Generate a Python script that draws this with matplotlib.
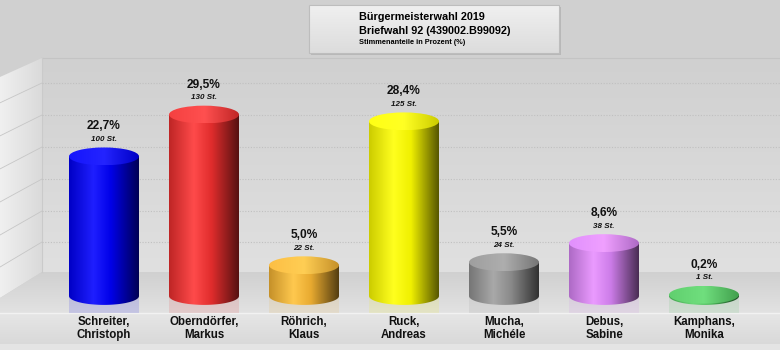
import numpy as np
import matplotlib
matplotlib.use("Agg")
import matplotlib.pyplot as plt
from matplotlib.colors import LinearSegmentedColormap, to_rgb
from matplotlib.patches import Polygon, Rectangle, Ellipse
from matplotlib.transforms import blended_transform_factory

plt.rcParams['font.family'] = ['Liberation Sans', 'DejaVu Sans']

candidates = ["Schreiter,\nChristoph", "Oberndörfer,\nMarkus", "Röhrich,\nKlaus",
              "Ruck,\nAndreas", "Mucha,\nMichéle", "Debus,\nSabine", "Kamphans,\nMonika"]
percent = [22.7, 29.5, 5.0, 28.4, 5.5, 8.6, 0.2]
votes = [100, 130, 22, 125, 24, 38, 1]
bar_colors = ["#0000e8", "#e02c2c", "#e8aa30", "#f0f000", "#8a8a8a", "#cc7ce8", "#4cbb5a"]

title_lines = ["Bürgermeisterwahl 2019", "Briefwahl 92 (439002.B99092)"]
subtitle = "Stimmenanteile in Prozent (%)"

W, H = 780, 350
fig = plt.figure(figsize=(7.8, 3.5), dpi=100, facecolor="#d0d0d0")

# background "3d" box, drawn in pixel coordinates
bg = fig.add_axes([0, 0, 1, 1])
bg.axis("off")


def gradient(ax, extent, colors, horizontal=False, clip=None, z=0, alpha=1.0):
    cmap = LinearSegmentedColormap.from_list("g", colors)
    g = np.linspace(0, 1, 256)
    arr = g[None, :] if horizontal else g[:, None]
    im = ax.imshow(arr, cmap=cmap, extent=extent, aspect="auto", origin="upper",
                   zorder=z, interpolation="bicubic", alpha=alpha)
    if clip is not None:
        im.set_clip_path(clip)
    return im


wall_l, wall_t, wall_b = 42, 58, 272
floor_front = 313
grid_y = [83, 115, 147, 179, 211, 242]

# left wall
lw_poly = Polygon([(0, 77), (wall_l, wall_t), (wall_l, wall_b), (0, 298)], closed=True,
                  facecolor="none", edgecolor="none")
bg.add_patch(lw_poly)
gradient(bg, (0, wall_l, 298, 58), ["#f0f0f0", "#dadada"], horizontal=True, clip=lw_poly, z=1)
for gy in grid_y:
    drop = 19 + (gy - wall_t) / (wall_b - wall_t) * 7
    bg.plot([0, wall_l], [gy + drop, gy], color="#c6c6c6", lw=0.6, zorder=2)

# back wall
gradient(bg, (wall_l, W, wall_b, wall_t), ["#d0d0d0", "#e0e0e0"], z=1)
bg.plot([wall_l, W], [wall_t, wall_t], color="#c4c4c4", lw=0.8, zorder=2)
bg.plot([wall_l, wall_l], [wall_t, wall_b], color="#cacaca", lw=0.8, zorder=2)
for gy in grid_y:
    bg.plot([wall_l, W], [gy, gy], color="#c0c0c0", lw=0.8, ls=(0, (1, 1.5)), zorder=2)

# floor
fl_poly = Polygon([(wall_l, wall_b), (W, wall_b), (W, floor_front), (0, floor_front), (0, 298)],
                  closed=True, facecolor="none", edgecolor="none")
bg.add_patch(fl_poly)
gradient(bg, (0, W, floor_front, wall_b), ["#d0d0d0", "#e2e2e2"], clip=fl_poly, z=1)

# front band with labels
gradient(bg, (0, W, 344, floor_front), ["#e6e6e6", "#d9d9d9"], z=1)
bg.add_patch(Rectangle((0, 344), W, 6, facecolor="#e4e4e4", edgecolor="none", zorder=1))
bg.plot([0, W], [floor_front, floor_front], color="#f2f2f2", lw=1, zorder=2)

# title box
bg.add_patch(Rectangle((311, 7), 250, 48, facecolor="#b8b8b8", edgecolor="none", zorder=3))
box = Rectangle((309, 5), 250, 48, facecolor="none", edgecolor="#bdbdbd", lw=0.8, zorder=5)
bg.add_patch(box)
gradient(bg, (309, 559, 53, 5), ["#f0f0f0", "#dcdcdc"], clip=box, z=4)
bg.text(359, 17, title_lines[0], fontsize=7.8, fontweight="bold", va="center", zorder=6)
bg.text(359, 31, title_lines[1], fontsize=7.8, fontweight="bold", va="center", zorder=6)
bg.text(359, 43, subtitle, fontsize=5.3, fontweight="bold", va="center", zorder=6)

bg.set_xlim(0, W)
bg.set_ylim(H, 0)

# data axes: categories on x, percent on y
ax = fig.add_axes([0, 0, 1, 1], facecolor="none")
ax.axis("off")
px_per_pct = 6.15
x0_px, step_px, base_px = 104, 100, 296

bw = 0.7
eh = 2.9
front_pct = -(floor_front - base_px) / px_per_pct

for i, (p, c) in enumerate(zip(percent, bar_colors)):
    base = np.array(to_rgb(c))
    light = np.clip(base + 0.12, 0, 1)
    dark = base * 0.36
    left = base * 0.85
    cmap_cols = [(0, left), (0.35, light), (0.6, base), (1, dark)]

    t = np.linspace(np.pi, 2 * np.pi, 80)
    # faint reflection on the floor
    rx = np.concatenate([i + bw / 2 * np.cos(t), [i + bw / 2, i - bw / 2]])
    ry = np.concatenate([eh / 2 * np.sin(t), [front_pct, front_pct]])
    ax.add_patch(Polygon(np.column_stack([rx, ry]), closed=True, facecolor=base,
                         edgecolor="none", alpha=0.13, zorder=2))

    xs = np.concatenate([[i - bw / 2], i + bw / 2 * np.cos(t), [i + bw / 2]])
    ys = np.concatenate([[p], eh / 2 * np.sin(t), [p]])
    body = Polygon(np.column_stack([xs, ys]), closed=True, facecolor="none", edgecolor="none")
    ax.add_patch(body)
    cmap = LinearSegmentedColormap.from_list("c%d" % i, cmap_cols)
    im = ax.imshow(np.linspace(0, 1, 256)[None, :], cmap=cmap,
                   extent=(i - bw / 2, i + bw / 2, -eh / 2, p), aspect="auto", zorder=3)
    im.set_clip_path(body)

    top = Ellipse((i, p), bw, eh, facecolor="none", edgecolor="none")
    ax.add_patch(top)
    tcm = LinearSegmentedColormap.from_list("t%d" % i,
                                            [np.clip(base + 0.08, 0, 1), np.clip(base + 0.14, 0, 1),
                                             base * 0.85])
    im2 = ax.imshow(np.linspace(0, 1, 256)[None, :], cmap=tcm,
                    extent=(i - bw / 2, i + bw / 2, p - eh / 2, p + eh / 2), aspect="auto", zorder=4)
    im2.set_clip_path(top)

    pct_txt = ("%.1f%%" % p).replace(".", ",")
    ax.annotate(pct_txt, (i, p), xytext=(0, 21.6), textcoords="offset points",
                ha="center", va="center", fontsize=8.6, fontweight="bold", color="#111111", zorder=6)
    ax.annotate("%d St." % votes[i], (i, p), xytext=(0, 12.2), textcoords="offset points",
                ha="center", va="center", fontsize=5.8, fontweight="bold", style="italic",
                color="#111111", zorder=6)

lab_tr = blended_transform_factory(ax.transData, bg.transData)
for i, name in enumerate(candidates):
    ax.text(i, 328.5, name, transform=lab_tr, ha="center", va="center", fontsize=8.3,
            fontweight="bold", color="#111111", linespacing=1.1, zorder=6)

ax.set_xlim(-x0_px / step_px, (W - x0_px) / step_px)
ax.set_ylim(-(H - base_px) / px_per_pct, base_px / px_per_pct)

fig.savefig("out.png", dpi=100, facecolor=fig.get_facecolor())
